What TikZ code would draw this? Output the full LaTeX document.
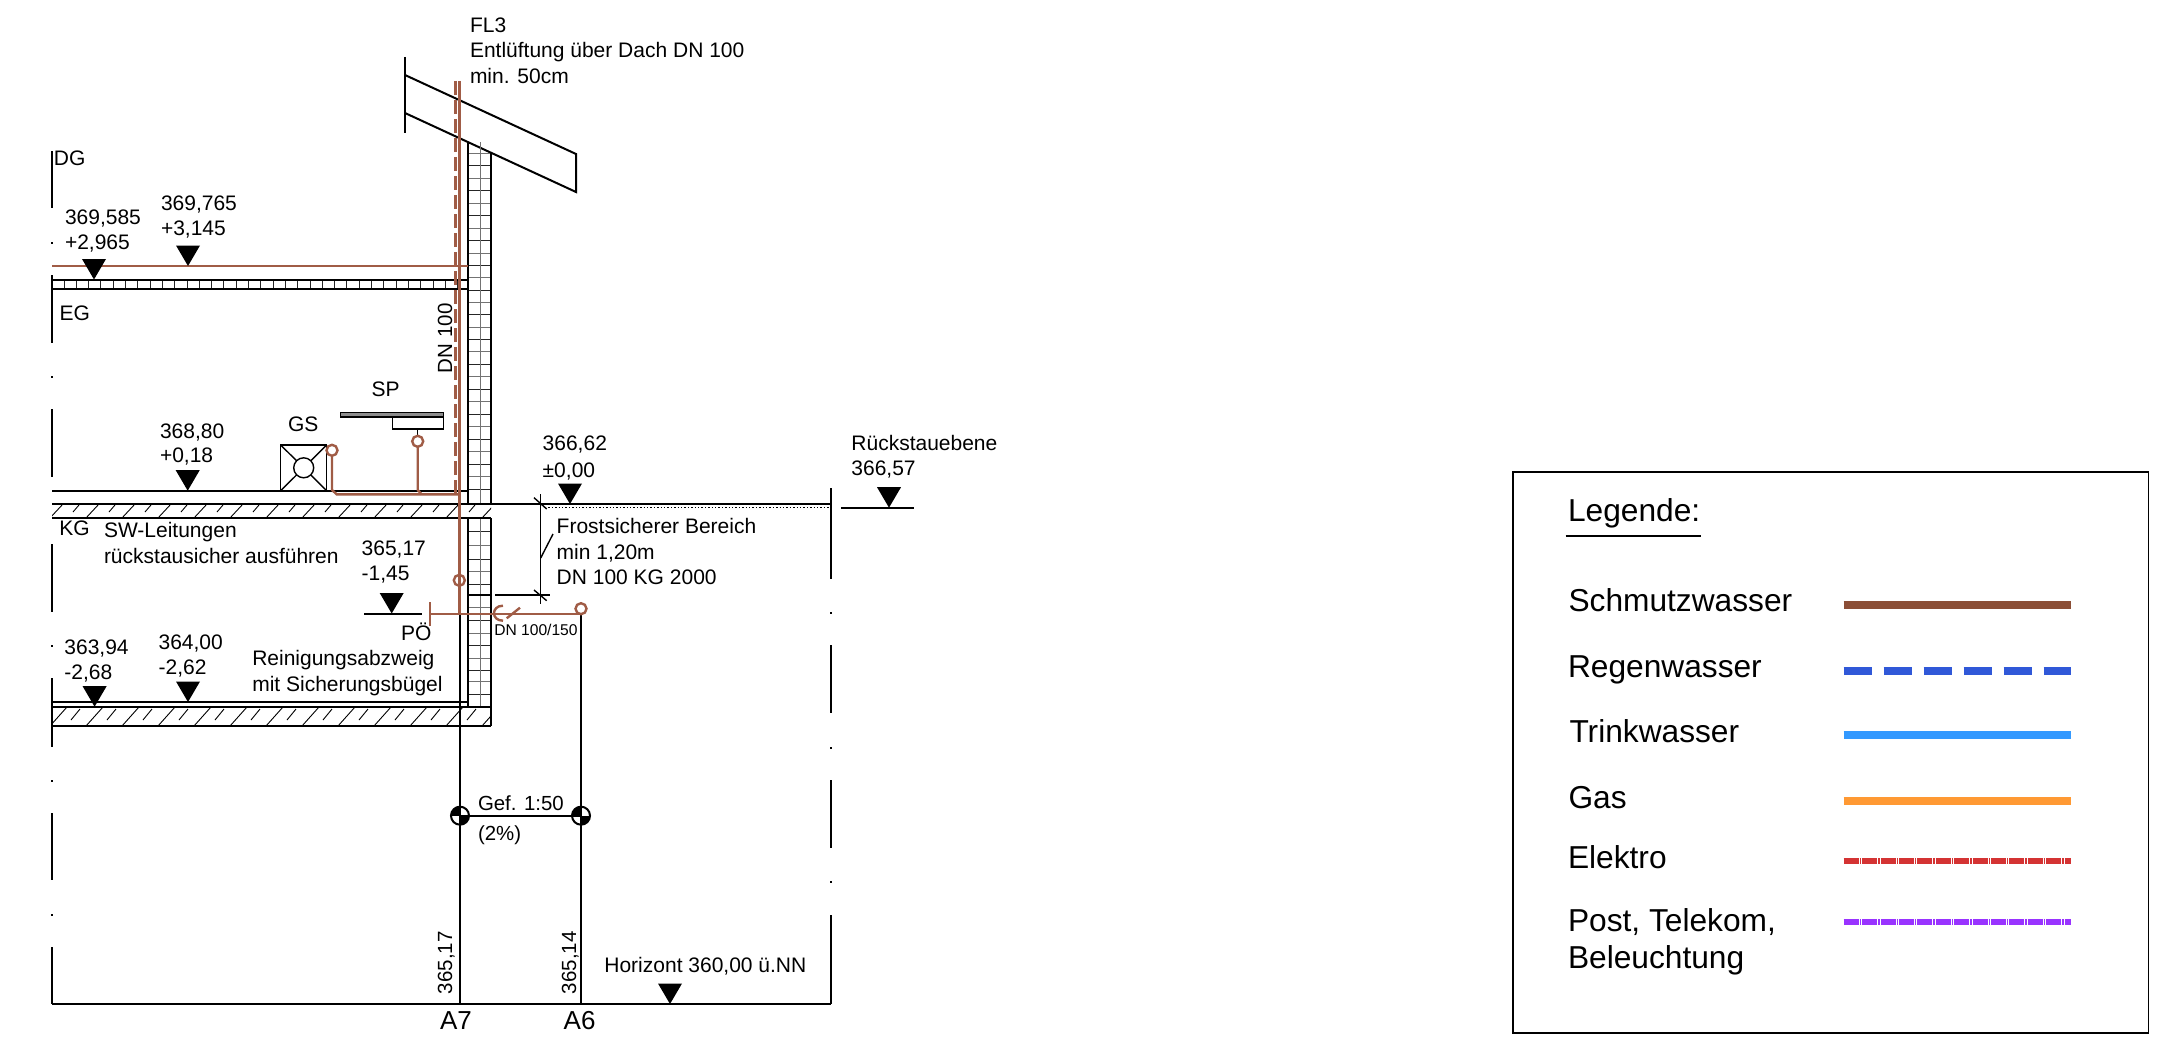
\documentclass[tikz,border=0pt]{standalone}
\usepackage{fontspec}
\setmainfont{Liberation Sans}
\definecolor{pipe}{HTML}{A05C46}
\definecolor{lgbrown}{HTML}{8B4E36}
\definecolor{lgblue}{HTML}{3058D8}
\definecolor{lgdrink}{HTML}{3399FF}
\definecolor{lggas}{HTML}{FF9933}
\definecolor{lgelec}{HTML}{D43333}
\definecolor{lgpost}{HTML}{9933FF}
\newcommand{\levelmark}[2]{\fill (#1-12,#2-20.5) -- (#1+12,#2-20.5) -- (#1,#2) -- cycle;}
\newcommand{\axismark}[2]{%
  \begin{scope}
    \clip (#1,#2) circle [radius=9];
    \fill (#1-10,#2-10) rectangle (#1,#2);
    \fill (#1,#2) rectangle (#1+10,#2+10);
  \end{scope}
  \draw[wall] (#1,#2) circle [radius=9];}
\tikzset{
  x=0.5pt,y=-0.5pt,
  wall/.style={line width=1pt,black},
  thin wall/.style={line width=0.7pt,black},
  grid line/.style={line width=0.45pt,black!85},
  grid soft/.style={line width=0.45pt,black!55},
  hatch/.style={line width=0.45pt,black},
  sw pipe/.style={line width=1.2pt,pipe},
  txt/.style={anchor=base west,inner sep=0pt,outer sep=0pt,font=\fontsize{10.5}{12}\selectfont},
  gtxt/.style={anchor=base west,inner sep=0pt,outer sep=0pt,font=\fontsize{10.2}{12}\selectfont},
  rtxt/.style={anchor=base west,inner sep=0pt,outer sep=0pt,rotate=90,font=\fontsize{10.25}{12}\selectfont},
  smalltxt/.style={anchor=base west,inner sep=0pt,outer sep=0pt,font=\fontsize{7.8}{9}\selectfont},
  axistxt/.style={anchor=base west,inner sep=0pt,outer sep=0pt,font=\fontsize{13}{15}\selectfont},
  legendtxt/.style={anchor=base west,inner sep=0pt,outer sep=0pt,font=\fontsize{15.85}{18}\selectfont},
  legendline/.style={line width=4pt},
}
\begin{document}
\begin{tikzpicture}
\useasboundingbox (0,0) rectangle (2178,1038);
% outer broken frame left
\foreach \a/\b in {151/208,275/343,409/477,544/612,678/747,813/880,947/1004}
  \draw[thin wall] (52,\a) -- (52,\b);
\foreach \a in {242,376,645,780,914}
  \draw[thin wall] (52,\a) -- (52,\a+1.5);
% outer broken frame right
\foreach \a/\b in {488/579,645/713,780/848,915/1004}
  \draw[wall] (831,\a) -- (831,\b);
\foreach \a in {612,747,881}
  \draw[thin wall] (831,\a) -- (831,\a+1.5);
\draw[line width=1.2pt] (52,1004) -- (831,1004);
% roof
\draw[wall] (405,57) -- (405,133);
\draw[wall] (405,75) -- (576,154) -- (576,192) -- (405,113);
% wall grid
\foreach \y [count=\i] in {153,165.5,178,190.5,203,215.5,228,240.5,253,265,277.5,290,302,314.5,327,339,351.5,364,376.5,389,401.5,414,426.5,439,451.5,464,476.5,489}{
  \ifodd\i \draw[grid soft] (468,\y) -- (491,\y); \else \draw[grid line] (468,\y) -- (491,\y); \fi}
\foreach \y [count=\i] in {531.7,545.5,559,571.7,584,607,620,633,645.7,658,670,681.7,694}{
  \ifodd\i \draw[grid line] (468,\y) -- (491,\y); \else \draw[grid soft] (468,\y) -- (491,\y); \fi}
\draw[grid soft] (480,142) -- (480,504);
\draw[grid soft] (480,518) -- (480,707);
\draw[wall] (468,142) -- (468,504);
\draw[wall] (468,518) -- (468,707);
\draw[wall] (491,153) -- (491,504);
\draw[wall] (491,518) -- (491,707);
\draw[line width=1.2pt] (468,595) -- (491,595);
% EG slab
\foreach \x in {64,76.3,...,462} \draw[grid line] (\x,279.5) -- (\x,288.7);
\draw[wall] (52,279.5) -- (468,279.5);
\draw[wall] (52,288.7) -- (468,288.7);
% ground floor line and slab 1
\draw[wall] (52,490.7) -- (467,490.7);
\begin{scope}
  \clip (52,504) rectangle (491,518);
  \foreach \x [count=\i] in {50,68,...,500}{
    \ifodd\i \draw[hatch] (\x,518) -- (\x+13,504); \else \draw[hatch] (\x+5,512) -- (\x+11,505); \fi}
\end{scope}
\draw[wall] (52,504) -- (831,504);
\draw[wall] (52,518) -- (491,518);
\draw[densely dotted,line width=0.7pt] (545,507.7) -- (831,507.7);
% basement slab
\draw[wall] (52,702) -- (468,702);
\begin{scope}
  \clip (52,707) rectangle (491,726);
  \foreach \x [count=\i] in {50,68,...,500}{
    \ifodd\i \draw[hatch] (\x,726) -- (\x+17,707); \else \draw[hatch] (\x+3,720) -- (\x+12,709); \fi}
\end{scope}
\draw[wall] (52,707) -- (491,707);
\draw[wall] (52,726) -- (491,726);
\draw[wall] (491,707) -- (491,726);
% pipes A7 and A6
\coordinate (a7top) at (460,613.7);
\coordinate (a7bot) at (460,1004);
\coordinate (a6top) at (581,613.7);
\coordinate (a6bot) at (581,1004);
\draw[wall] (a7top) -- (a7bot);
\draw[wall] (a6top) -- (a6bot);
\draw[wall] (460,815.7) -- (581,815.7);
\axismark{460}{815.7}
\axismark{581}{815.7}
% gully
\draw[thin wall] (280.7,445) rectangle (326.7,490.7);
\draw[thin wall] (303.7,467.8) circle [radius=10];
\draw[thin wall] (280.7,445) -- (296.6,460.8) (326.7,445) -- (310.8,460.8)
  (280.7,490.7) -- (296.6,474.9) (326.7,490.7) -- (310.8,474.9);
% basin
\draw[thin wall,fill=black!45] (340.7,412.7) rectangle (443.3,417);
\draw[thin wall] (392.3,417) rectangle (443.3,429);
\draw[thin wall] (417.7,429) -- (417.7,436);
% waste pipes
\draw[sw pipe] (52,266) -- (468,266);
\draw[sw pipe] (459.3,81) -- (459.3,613.7);
\draw[sw pipe,dash pattern=on 7pt off 2.5pt] (455.5,81) -- (455.5,495);
\draw[sw pipe] (332,455.8) -- (332,490) -- (336.7,494.3) -- (459.3,494.3);
\draw[sw pipe] (417.7,446.8) -- (417.7,490) -- (421.7,494.3);
\draw[sw pipe] (332,450.3) circle [radius=5.5];
\draw[sw pipe] (417.7,441.3) circle [radius=5.5];
\draw[sw pipe] (459.3,580.3) circle [radius=5.5];
\draw[sw pipe] (430,602) -- (430,625.7);
\draw[sw pipe] (430,613.7) -- (581,613.7);
\draw[sw pipe] (581,608.7) circle [radius=5.5];
\draw[sw pipe] (503,605.7) .. controls (491,605.7) and (491,620.7) .. (503,620.7);
\draw[sw pipe] (506.7,618.3) -- (520,607.7);
% dimension frost
\draw[thin wall] (540.7,494) -- (540.7,604);
\draw[thin wall] (534,497.7) -- (546.7,509);
\draw[thin wall] (534,590) -- (546.7,600.7);
\draw[wall] (495,595) -- (550,595);
\draw[thin wall] (540.7,558) -- (553,534);
% level marks
\levelmark{94}{279.5}
\levelmark{188}{266}
\levelmark{187.7}{490.7}
\levelmark{391.7}{613.5}
\draw[wall] (364,614) -- (422.3,614);
\levelmark{94.6}{706.7}
\levelmark{188}{702}
\levelmark{570}{504}
\levelmark{889}{507.7}
\draw[wall] (841.4,507.7) -- (913.8,507.7);
\levelmark{670}{1004}
% texts
\node[txt] (fl3) at (470,32.3) {FL3};
\node[txt] (entl) at (470,58) {Entlüftung über Dach DN 100};
\node[txt] (minfifty) at (470,84) {min. 50cm};
\node[txt] (dg) at (54,165.7) {DG};
\node[txt] (eg) at (59.5,320.7) {EG};
\node[txt] (kg) at (59.3,535.7) {KG};
\node[txt] (l1a) at (65,224) {369,585};
\node[txt] (l1b) at (65,249) {+2,965};
\node[txt] (l2a) at (161,210) {369,765};
\node[txt] (l2b) at (161,235.6) {+3,145};
\node[rtxt] (dnhundred) at (452,373) {DN 100};
\node[txt] (sp) at (371.7,396) {SP};
\node[txt] (gs) at (288,431.7) {GS};
\node[txt] (l3a) at (160,438) {368,80};
\node[txt] (l3b) at (160,462.7) {+0,18};
\node[txt] (sw1) at (104,537.7) {SW-Leitungen};
\node[txt] (sw2) at (104,563.3) {rückstausicher ausführen};
\node[txt] (l4a) at (361.7,555) {365,17};
\node[txt] (l4b) at (361.7,580) {-1,45};
\node[txt] (poe) at (401,640) {PÖ};
\node[smalltxt] (dnpipe) at (494.3,635.7) {DN 100/150};
\node[txt] (fr1) at (556.7,533) {Frostsicherer Bereich};
\node[txt] (fr2) at (556.7,559) {min 1,20m};
\node[txt] (fr3) at (556.7,584) {DN 100 KG 2000};
\node[txt] (l5a) at (542.7,450.7) {366,62};
\node[txt] (l5b) at (542.7,477) {±0,00};
\node[txt] (rs1) at (851.4,450) {Rückstauebene};
\node[txt] (rs2) at (851.4,475) {366,57};
\node[txt] (l6a) at (64.4,654) {363,94};
\node[txt] (l6b) at (64.4,679) {-2,68};
\node[txt] (l7a) at (158.6,649) {364,00};
\node[txt] (l7b) at (158.6,674) {-2,62};
\node[txt] (re1) at (252.3,665.7) {Reinigungsabzweig};
\node[txt] (re2) at (252.3,691) {mit Sicherungsbügel};
\node[gtxt] (gef) at (478,810) {Gef. 1:50};
\node[gtxt] (pct) at (478,840) {(2\%)};
\node[rtxt] (h7) at (452,994) {365,17};
\node[rtxt] (h6) at (576,994) {365,14};
\node[txt] (hor) at (604.4,972.3) {Horizont 360,00 ü.NN};
\node[axistxt] (a7) at (440,1029) {A7};
\node[axistxt] (a6) at (563.7,1029) {A6};
% legend
\draw[thin wall] (1513,471.8) rectangle (2148.5,1033);
\node[legendtxt] (lgt) at (1568,521) {Legende:};
\draw[thin wall] (1565.5,536) -- (1701,536);
\node[legendtxt] (lg1) at (1568.5,611) {Schmutzwasser};
\node[legendtxt] (lg2) at (1568,677.5) {Regenwasser};
\node[legendtxt] (lg3) at (1569.5,742) {Trinkwasser};
\node[legendtxt] (lg4) at (1568.5,808) {Gas};
\node[legendtxt] (lg5) at (1568,868.4) {Elektro};
\node[legendtxt] (lg6) at (1568,931) {Post, Telekom,};
\node[legendtxt] (lg7) at (1568,968.7) {Beleuchtung};
\draw[legendline,lgbrown] (1843.7,604.5) -- (2071,604.5);
\draw[legendline,lgblue,dash pattern=on 14pt off 6pt] (1843.7,670.5) -- (2071,670.5);
\draw[legendline,lgdrink] (1843.7,734.6) -- (2071,734.6);
\draw[legendline,lggas] (1843.7,801) -- (2071,801);
\draw[line width=2.6pt,lgelec,dash pattern=on 7.5pt off 0.5pt on 0.7pt off 0.5pt] (1843.7,861) -- (2071,861);
\draw[line width=2.6pt,lgpost,dash pattern=on 7.5pt off 0.5pt on 0.7pt off 0.5pt] (1843.7,922) -- (2071,922);
\end{tikzpicture}
\end{document}
